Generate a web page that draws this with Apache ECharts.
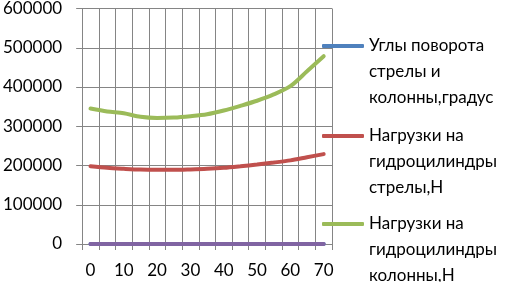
<!DOCTYPE html>
<html>
<head>
<meta charset="utf-8">
<script src="https://cdn.jsdelivr.net/npm/echarts@6/dist/echarts.min.js"></script>
<style>
  html, body { margin: 0; padding: 0; background: #fff; }
  #chart { width: 510px; height: 282px; }
</style>
</head>
<body>
<div id="chart"></div>
<script>
// categories (angle, degrees) and the series
const angles = ["0", "5", "10", "15", "20", "25", "30", "35", "40", "45", "50", "55", "60", "65", "70"];
const angleValues = [0, 5, 10, 15, 20, 25, 30, 35, 40, 45, 50, 55, 60, 65, 70];
const boomLoads = [198000, 194000, 191500, 189500, 189000, 189000, 190000, 191500, 194000, 198000, 202500, 207500, 213000, 221000, 229000];
const columnLoads = [345000, 337500, 333000, 324000, 321000, 322000, 325500, 330500, 340000, 352000, 365000, 381000, 402000, 440000, 478500];
const zeroLine = [0, 0, 0, 0, 0, 0, 0, 0, 0, 0, 0, 0, 0, 0, 0];
const yTicks = [0, 100000, 200000, 300000, 400000, 500000, 600000];

const names = ["Углы поворота", "Нагрузки на гидроцилиндры стрелы", "Нагрузки на гидроцилиндры колонны"];
const legendText = {
  [names[0]]: "Углы поворота\nстрелы и\nколонны,градус",
  [names[1]]: "Нагрузки на\nгидроцилиндры\nстрелы,Н",
  [names[2]]: "Нагрузки на\nгидроцилиндры\nколонны,Н"
};
const legendTops = [-19, 71, 159];

const FONT = "Lato, 'Open Sans', sans-serif";
const GRID_COLOR = "#858585";

const chart = echarts.init(document.getElementById("chart"), null, { renderer: "canvas" });

function lineSeries(name, data, color) {
  return {
    name: name,
    type: "line",
    data: data,
    symbol: "none",
    smooth: 0.3,
    lineStyle: { color: color, width: 4, cap: "round" },
    itemStyle: { color: color },
    emphasis: { disabled: true }
  };
}

// one legend per entry: the icon lines up with the first text line
const legends = names.map((n, i) => ({
  data: [n],
  orient: "vertical",
  left: 322,
  top: legendTops[i],
  padding: 0,
  itemWidth: 42,
  itemHeight: 4,
  icon: "roundRect",
  selectedMode: false,
  formatter: (s) => "\n\n" + legendText[s],
  textStyle: { color: "#000", fontSize: 17, fontFamily: FONT, lineHeight: 26 }
}));

chart.setOption({
  animation: false,
  textStyle: { fontFamily: FONT },
  grid: { left: 82, right: 178, top: 7, bottom: 38 },
  xAxis: {
    type: "category",
    data: angles,
    boundaryGap: true,
    axisLine: { lineStyle: { color: GRID_COLOR, width: 1 } },
    axisTick: { show: true, interval: 0, length: 6, lineStyle: { color: GRID_COLOR } },
    splitLine: { show: true, interval: 0, lineStyle: { color: GRID_COLOR, width: 1 } },
    axisLabel: { interval: 1, color: "#000", fontSize: 17, fontFamily: FONT, margin: 18 }
  },
  yAxis: {
    type: "value",
    min: yTicks[0],
    max: yTicks[yTicks.length - 1],
    interval: yTicks[1] - yTicks[0],
    axisLine: { show: true, lineStyle: { color: GRID_COLOR, width: 1 } },
    axisTick: { show: true, length: 6, lineStyle: { color: GRID_COLOR } },
    splitLine: { show: true, lineStyle: { color: GRID_COLOR, width: 1 } },
    axisLabel: { color: "#000", fontSize: 17, fontFamily: FONT, margin: 20, formatter: (v) => String(v) }
  },
  legend: legends,
  series: [
    lineSeries(names[0], angleValues, "#4F81BD"),
    lineSeries(names[1], boomLoads, "#C0504D"),
    lineSeries(names[2], columnLoads, "#9BBB59"),
    lineSeries("zero", zeroLine, "#8064A2")
  ]
});
</script>
</body>
</html>
